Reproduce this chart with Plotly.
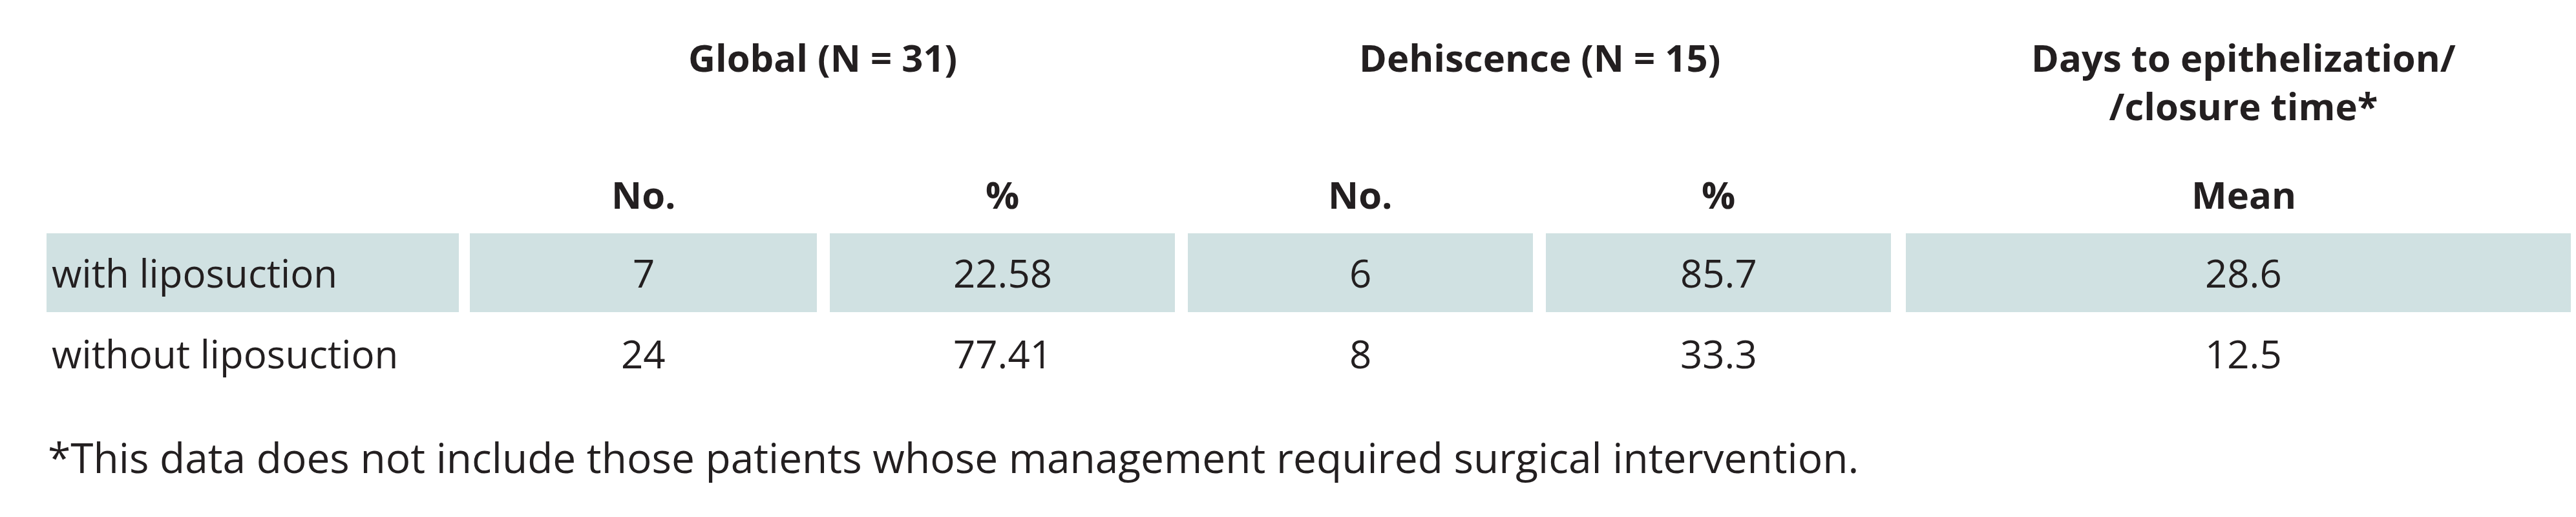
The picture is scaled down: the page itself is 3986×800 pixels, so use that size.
import plotly.graph_objects as go

# table content
row_labels = ['with liposuction', 'without liposuction']
global_no = ['7', '24']
global_pct = ['22.58', '77.41']
dehis_no = ['6', '8']
dehis_pct = ['85.7', '33.3']
days_mean = ['28.6', '12.5']
group_headers = ['Global (N = 31)', 'Dehiscence (N = 15)', 'Days to epithelization/<br>/closure time*']
sub_headers = ['No.', '%', 'No.', '%', 'Mean']
footnote = '*This data does not include those patients whose management required surgical intervention.'

W, H = 3986, 800
TXT = '#231f20'
FILL = '#d0e1e2'
FONT = 'Open Sans'
FS = 60

# column edges (pixels)
cols = [(64, 702), (719, 1256), (1276, 1810), (1830, 2364), (2384, 2918), (2941, 3986)]
row_y = [414, 539]
shade = (353, 475)

fig = go.Figure()
fig.add_trace(go.Scatter(x=[0, W], y=[0, H], mode='markers', marker={'opacity': 0}, hoverinfo='skip'))

# shaded first row
for x0, x1 in cols:
    fig.add_shape(type='rect', x0=x0, x1=x1, y0=shade[0], y1=shade[1],
                  fillcolor=FILL, line={'width': 0}, layer='below')

def txt(x, y, s, bold=False, align='center', size=FS):
    if bold:
        s = '<b>' + s + '</b>'
    fig.add_annotation(x=x, y=y, text=s, showarrow=False, xanchor=align, yanchor='middle',
                       align=align, font={'family': FONT, 'size': size, 'color': TXT})

def mid(c):
    return (c[0] + c[1]) / 2

# group headers
txt((cols[1][0] + cols[2][1]) / 2, 80, group_headers[0], bold=True, size=58)
txt((cols[3][0] + cols[4][1]) / 2, 80, group_headers[1], bold=True, size=58)
fig.add_annotation(x=mid(cols[5]), y=118, text='<b>' + group_headers[2] + '</b>', showarrow=False,
                   yanchor='middle', align='center',
                   font={'family': FONT, 'size': 58, 'color': TXT})

for c, s in zip(cols[1:], sub_headers):
    txt(mid(c), 292, s, bold=True, size=58)

columns = [global_no, global_pct, dehis_no, dehis_pct, days_mean]
for i, y in enumerate(row_y):
    txt(cols[0][0] + 6, y, row_labels[i], align='left')
    for c, vals in zip(cols[1:], columns):
        txt(mid(c), y, vals[i])

txt(64, 699, footnote, align='left', size=64)

fig.update_layout(width=W, height=H, margin={'l': 0, 'r': 0, 't': 0, 'b': 0},
                  paper_bgcolor='white', plot_bgcolor='white', showlegend=False,
                  xaxis={'range': [0, W], 'visible': False, 'fixedrange': True},
                  yaxis={'range': [H, 0], 'visible': False, 'fixedrange': True})
fig.write_html('out.html')
